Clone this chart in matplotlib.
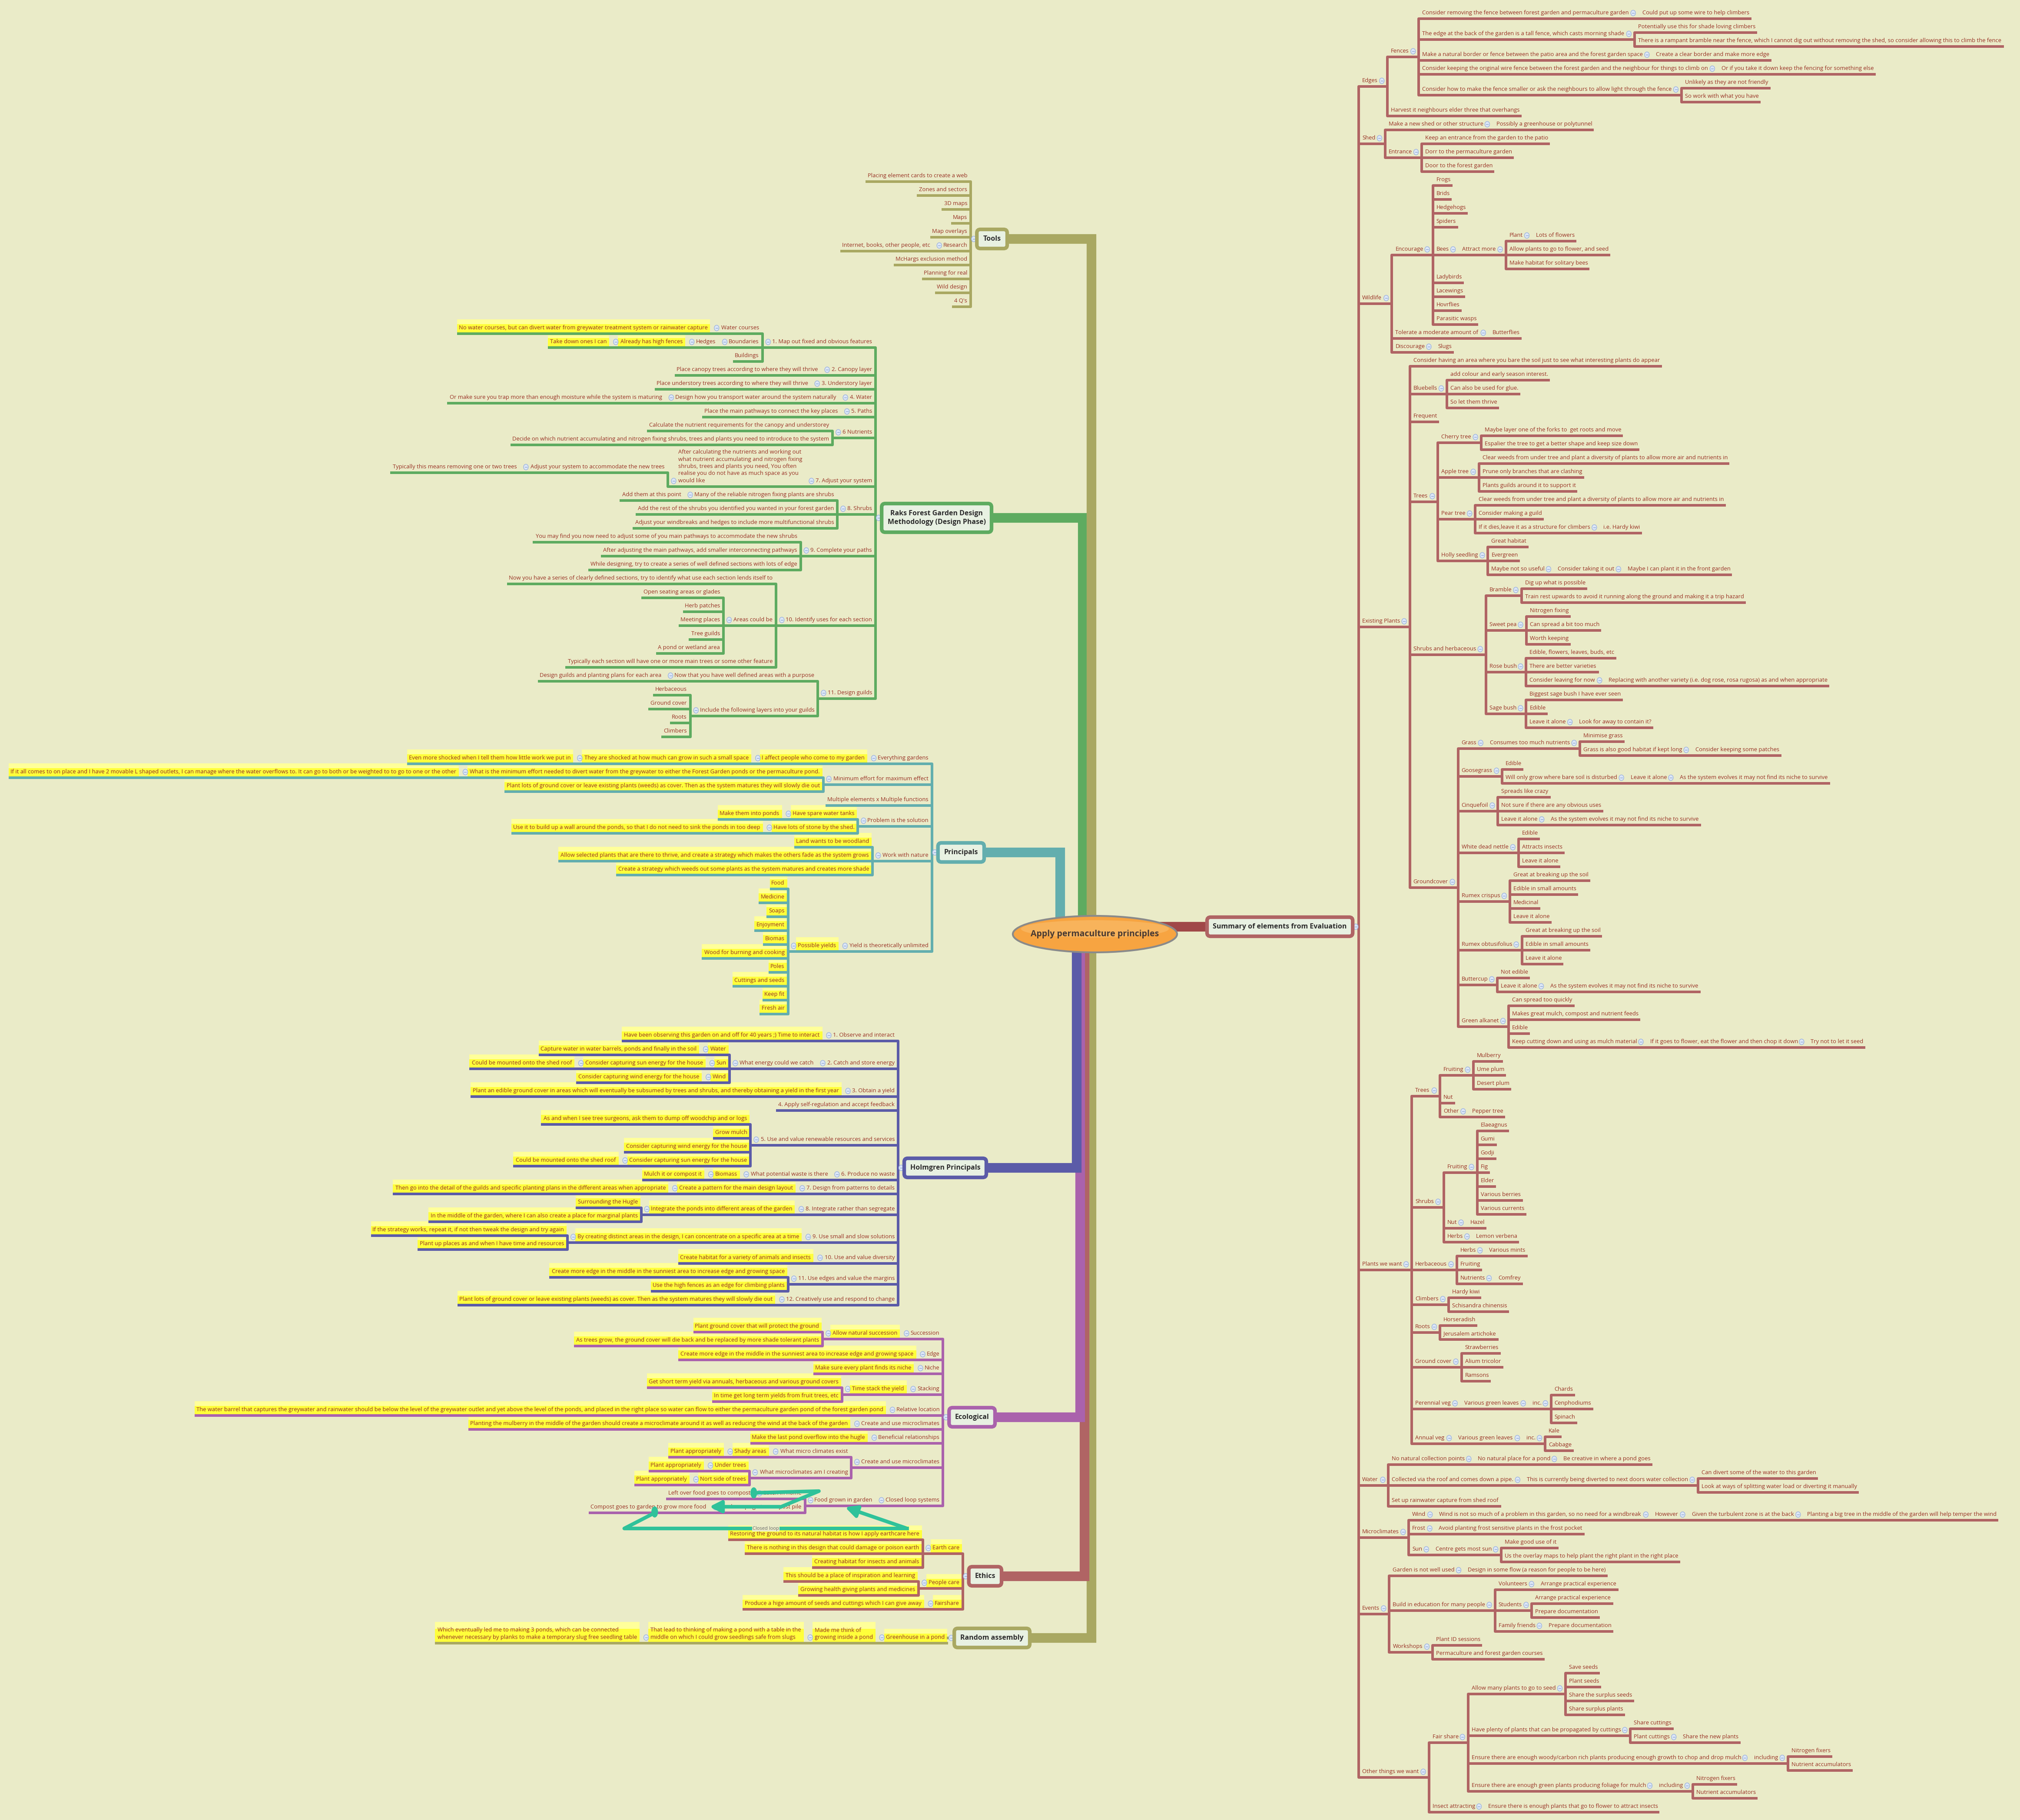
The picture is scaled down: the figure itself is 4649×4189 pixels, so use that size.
import matplotlib
matplotlib.use("Agg")
import matplotlib.pyplot as plt
from matplotlib.textpath import TextPath
from matplotlib.font_manager import FontProperties
from matplotlib.patches import FancyBboxPatch, Ellipse, Rectangle, FancyArrowPatch

# ---------------- DATA ----------------
root_label = "Apply permaculture principles"

summary_label = "Summary of elements from Evaluation"
summary_children = [
    ("Edges", [
        ("Fences", [
            ("Consider removing the fence between forest garden and permaculture garden", ["Could put up some wire to help climbers"]),
            ("The edge at the back of the garden is a tall fence, which casts morning shade", [
                "Potentially use this for shade loving climbers",
                "There is a rampant bramble near the fence, which I cannot dig out without removing the shed, so consider allowing this to climb the fence"]),
            ("Make a natural border or fence between the patio area and the forest garden space", ["Create a clear border and make more edge"]),
            ("Consider keeping the original wire fence between the forest garden and the neighbour for things to climb on", ["Or if you take it down keep the fencing for something else"]),
            ("Consider how to make the fence smaller or ask the neighbours to allow light through the fence", [
                "Unlikely as they are not friendly", "So work with what you have"]),
        ]),
        "Harvest it neighbours elder three that overhangs",
    ]),
    ("Shed", [
        ("Make a new shed or other structure", ["Possibly a greenhouse or polytunnel"]),
        ("Entrance", ["Keep an entrance from the garden to the patio", "Dorr to the permaculture garden", "Door to the forest garden"]),
    ]),
    ("Wildlife", [
        ("Encourage", ["Frogs", "Brids", "Hedgehogs", "Spiders",
                       ("Bees", [("Attract more", [("Plant", ["Lots of flowers"]),
                                                   "Allow plants to go to flower, and seed",
                                                   "Make habitat for solitary bees"])]),
                       "Ladybirds", "Lacewings", "Hovrflies", "Parasitic wasps"]),
        ("Tolerate a moderate amount of", ["Butterflies"]),
        ("Discourage", ["Slugs"]),
    ]),
    ("Existing Plants", [
        "Consider having an area where you bare the soil just to see what interesting plants do appear",
        ("Bluebells", ["add colour and early season interest.", "Can also be used for glue.", "So let them thrive"]),
        "Frequent",
        ("Trees", [
            ("Cherry tree", ["Maybe layer one of the forks to  get roots and move", "Espalier the tree to get a better shape and keep size down"]),
            ("Apple tree", ["Clear weeds from under tree and plant a diversity of plants to allow more air and nutrients in",
                            "Prune only branches that are clashing", "Plants guilds around it to support it"]),
            ("Pear tree", ["Clear weeds from under tree and plant a diversity of plants to allow more air and nutrients in",
                           "Consider making a guild",
                           ("If it dies,leave it as a structure for climbers", ["i.e. Hardy kiwi"])]),
            ("Holly seedling", ["Great habitat", "Evergreen",
                                ("Maybe not so useful", [("Consider taking it out", ["Maybe I can plant it in the front garden"])])]),
        ]),
        ("Shrubs and herbaceous", [
            ("Bramble", ["Dig up what is possible", "Train rest upwards to avoid it running along the ground and making it a trip hazard"]),
            ("Sweet pea", ["Nitrogen fixing", "Can spread a bit too much", "Worth keeping"]),
            ("Rose bush", ["Edible, flowers, leaves, buds, etc", "There are better varieties",
                           ("Consider leaving for now", ["Replacing with another variety (i.e. dog rose, rosa rugosa) as and when appropriate"])]),
            ("Sage bush", ["Biggest sage bush I have ever seen", "Edible", ("Leave it alone", ["Look for away to contain it?"])]),
        ]),
        ("Groundcover", [
            ("Grass", [("Consumes too much nutrients", ["Minimise grass",
                                                        ("Grass is also good habitat if kept long", ["Consider keeping some patches"])])]),
            ("Goosegrass", ["Edible", ("Will only grow where bare soil is disturbed",
                                       [("Leave it alone", ["As the system evolves it may not find its niche to survive"])])]),
            ("Cinquefoil", ["Spreads like crazy", "Not sure if there are any obvious uses",
                            ("Leave it alone", ["As the system evolves it may not find its niche to survive"])]),
            ("White dead nettle", ["Edible", "Attracts insects", "Leave it alone"]),
            ("Rumex crispus", ["Great at breaking up the soil", "Edible in small amounts", "Medicinal", "Leave it alone"]),
            ("Rumex obtusifolius", ["Great at breaking up the soil", "Edible in small amounts", "Leave it alone"]),
            ("Buttercup", ["Not edible", ("Leave it alone", ["As the system evolves it may not find its niche to survive"])]),
            ("Green alkanet", ["Can spread too quickly", "Makes great mulch, compost and nutrient feeds", "Edible",
                               ("Keep cutting down and using as mulch material",
                                [("If it goes to flower, eat the flower and then chop it down", ["Try not to let it seed"])])]),
        ]),
    ]),
    ("Plants we want", [
        ("Trees", [("Fruiting", ["Mulberry", "Ume plum", "Desert plum"]), "Nut", ("Other", ["Pepper tree"])]),
        ("Shrubs", [("Fruiting", ["Elaeagnus", "Gumi", "Godji", "Fig", "Elder", "Various berries", "Various currents"]),
                    ("Nut", ["Hazel"]), ("Herbs", ["Lemon verbena"])]),
        ("Herbaceous", [("Herbs", ["Various mints"]), "Fruiting", ("Nutrients", ["Comfrey"])]),
        ("Climbers", ["Hardy kiwi", "Schisandra chinensis"]),
        ("Roots", ["Horseradish", "Jerusalem artichoke"]),
        ("Ground cover", ["Strawberries", "Alium tricolor", "Ramsons"]),
        ("Perennial veg", [("Various green leaves", [("inc.", ["Chards", "Cenphodiums", "Spinach"])])]),
        ("Annual veg", [("Various green leaves", [("inc.", ["Kale", "Cabbage"])])]),
    ]),
    ("Water", [
        ("No natural collection points", [("No natural place for a pond", ["Be creative in where a pond goes"])]),
        ("Collected via the roof and comes down a pipe.", [("This is currently being diverted to next doors water collection", [
            "Can divert some of the water to this garden", "Look at ways of splitting water load or diverting it manually"])]),
        "Set up rainwater capture from shed roof",
    ]),
    ("Microclimates", [
        ("Wind", [("Wind is not so much of a problem in this garden, so no need for a windbreak", [("However", [
            ("Given the turbulent zone is at the back", ["Planting a big tree in the middle of the garden will help temper the wind"])])])]),
        ("Frost", ["Avoid planting frost sensitive plants in the frost pocket"]),
        ("Sun", [("Centre gets most sun", ["Make good use of it", "Us the overlay maps to help plant the right plant in the right place"])]),
    ]),
    ("Events", [
        ("Garden is not well used", ["Design in some flow (a reason for people to be here)"]),
        ("Build in education for many people", [
            ("Volunteers", ["Arrange practical experience"]),
            ("Students", ["Arrange practical experience", "Prepare documentation"]),
            ("Family friends", ["Prepare documentation"])]),
        ("Workshops", ["Plant ID sessions", "Permaculture and forest garden courses"]),
    ]),
    ("Other things we want", [
        ("Fair share", [
            ("Allow many plants to go to seed", ["Save seeds", "Plant seeds", "Share the surplus seeds", "Share surplus plants"]),
            ("Have plenty of plants that can be propagated by cuttings", ["Share cuttings", ("Plant cuttings", ["Share the new plants"])]),
            ("Ensure there are enough woody/carbon rich plants producing enough growth to chop and drop mulch",
             [("including", ["Nitrogen fixers", "Nutrient accumulators"])]),
            ("Ensure there are enough green plants producing foliage for mulch",
             [("including", ["Nitrogen fixers", "Nutrient accumulators"])]),
        ]),
        ("Insect attracting", ["Ensure there is enough plants that go to flower to attract insects"]),
    ]),
]

tools_children = ["Placing element cards to create a web", "Zones and sectors", "3D maps", "Maps", "Map overlays",
                  ("Research", ["Internet, books, other people, etc"]), "McHargs exclusion method",
                  "Planning for real", "Wild design", "4 Q's"]

raks_children = [
    ("1. Map out fixed and obvious features", [
        ("Water courses", ["No water courses, but can divert water from greywater treatment system or rainwater capture"]),
        ("Boundaries", [("Hedges", [("Already has high fences", ["Take down ones I can"])])]),
        "Buildings"]),
    ("2. Canopy layer", ["Place canopy trees according to where they will thrive"]),
    ("3. Understory layer", ["Place understory trees according to where they will thrive"]),
    ("4. Water", [("Design how you transport water around the system naturally",
                   ["Or make sure you trap more than enough moisture while the system is maturing"])]),
    ("5. Paths", ["Place the main pathways to connect the key places"]),
    ("6 Nutrients", ["Calculate the nutrient requirements for the canopy and understorey",
                     "Decide on which nutrient accumulating and nitrogen fixing shrubs, trees and plants you need to introduce to the system"]),
    ("7. Adjust your system", [("After calculating the nutrients and working out\nwhat nutrient accumulating and nitrogen fixing\n"
                                "shrubs, trees and plants you need, You often\nrealise you do not have as much space as you\nwould like",
                                [("Adjust your system to accommodate the new trees", ["Typically this means removing one or two trees"])])]),
    ("8. Shrubs", [("Many of the reliable nitrogen fixing plants are shrubs", ["Add them at this point"]),
                   "Add the rest of the shrubs you identified you wanted in your forest garden",
                   "Adjust your windbreaks and hedges to include more multifunctional shrubs"]),
    ("9. Complete your paths", ["You may find you now need to adjust some of you main pathways to accommodate the new shrubs",
                                "After adjusting the main pathways, add smaller interconnecting pathways",
                                "While designing, try to create a series of well defined sections with lots of edge"]),
    ("10. Identify uses for each section", [
        "Now you have a series of clearly defined sections, try to identify what use each section lends itself to",
        ("Areas could be", ["Open seating areas or glades", "Herb patches", "Meeting places", "Tree guilds", "A pond or wetland area"]),
        "Typically each section will have one or more main trees or some other feature"]),
    ("11. Design guilds", [("Now that you have well defined areas with a purpose", ["Design guilds and planting plans for each area"]),
                           ("Include the following layers into your guilds", ["Herbaceous", "Ground cover", "Roots", "Climbers"])]),
]

principals_children = [
    ("Everything gardens", [("I affect people who come to my garden", [("They are shocked at how much can grow in such a small space",
                                                                        ["Even more shocked when I tell them how little work we put in"])])]),
    ("Minimum effort for maximum effect", [
        ("What is the minimum effort needed to divert water from the greywater to either the Forest Garden ponds or the permaculture pond.",
         ["If it all comes to on place and I have 2 movable L shaped outlets, I can manage where the water overflows to. It can go to both or be weighted to to go to one or the other"]),
        "Plant lots of ground cover or leave existing plants (weeds) as cover. Then as the system matures they will slowly die out"]),
    "Multiple elements x Multiple functions",
    ("Problem is the solution", [("Have spare water tanks", ["Make them into ponds"]),
                                 ("Have lots of stone by the shed.", ["Use it to build up a wall around the ponds, so that I do not need to sink the ponds in too deep"])]),
    ("Work with nature", ["Land wants to be woodland",
                          "Allow selected plants that are there to thrive, and create a strategy which makes the others fade as the system grows",
                          "Create a strategy which weeds out some plants as the system matures and creates more shade"]),
    ("Yield is theoretically unlimited", [("Possible yields", ["Food", "Medicine", "Soaps", "Enjoyment", "Biomas",
                                                               "Wood for burning and cooking", "Poles", "Cuttings and seeds",
                                                               "Keep fit", "Fresh air"])]),
]

holmgren_children = [
    ("1. Observe and interact", ["Have been observing this garden on and off for 40 years ;) Time to interact"]),
    ("2. Catch and store energy", [("What energy could we catch", [
        ("Water", ["Capture water in water barrels, ponds and finally in the soil"]),
        ("Sun", [("Consider capturing sun energy for the house", ["Could be mounted onto the shed roof"])]),
        ("Wind", ["Consider capturing wind energy for the house"])])]),
    ("3. Obtain a yield", ["Plant an edible ground cover in areas which will eventually be subsumed by trees and shrubs, and thereby obtaining a yield in the first year"]),
    "4. Apply self-regulation and accept feedback",
    ("5. Use and value renewable resources and services", [
        "As and when I see tree surgeons, ask them to dump off woodchip and or logs", "Grow mulch",
        "Consider capturing wind energy for the house",
        ("Consider capturing sun energy for the house", ["Could be mounted onto the shed roof"])]),
    ("6. Produce no waste", [("What potential waste is there", [("Biomass", ["Mulch it or compost it"])])]),
    ("7. Design from patterns to details", [("Create a pattern for the main design layout",
                                             ["Then go into the detail of the guilds and specific planting plans in the different areas when appropriate"])]),
    ("8. Integrate rather than segregate", [("Integrate the ponds into different areas of the garden",
                                             ["Surrounding the Hugle", "In the middle of the garden, where I can also create a place for marginal plants"])]),
    ("9. Use small and slow solutions", [("By creating distinct areas in the design, I can concentrate on a specific area at a time",
                                          ["If the strategy works, repeat it, if not then tweak the design and try again",
                                           "Plant up places as and when I have time and resources"])]),
    ("10. Use and value diversity", ["Create habitat for a variety of animals and insects"]),
    ("11. Use edges and value the margins", ["Create more edge in the middle in the sunniest area to increase edge and growing space",
                                            "Use the high fences as an edge for climbing plants"]),
    ("12. Creatively use and respond to change", ["Plant lots of ground cover or leave existing plants (weeds) as cover. Then as the system matures they will slowly die out"]),
]

ecological_children = [
    ("Succession", [("Allow natural succession", ["Plant ground cover that will protect the ground",
                                                  "As trees grow, the ground cover will die back and be replaced by more shade tolerant plants"])]),
    ("Edge", ["Create more edge in the middle in the sunniest area to increase edge and growing space"]),
    ("Niche", ["Make sure every plant finds its niche"]),
    ("Stacking", [("Time stack the yield", ["Get short term yield via annuals, herbaceous and various ground covers",
                                            "In time get long term yields from fruit trees, etc"])]),
    ("Relative location", ["The water barrel that captures the greywater and rainwater should be below the level of the greywater outlet and yet above the level of the ponds, and placed in the right place so water can flow to either the permaculture garden pond of the forest garden pond"]),
    ("Create and use microclimates", ["Planting the mulberry in the middle of the garden should create a microclimate around it as well as reducing the wind at the back of the garden"]),
    ("Beneficial relationships", ["Make the last pond overflow into the hugle"]),
    ("Create and use microclimates", [
        ("What micro climates exist", [("Shady areas", ["Plant appropriately"])]),
        ("What microclimates am I creating", [("Under trees", ["Plant appropriately"]),
                                              ("Nort side of trees", ["Plant appropriately"])])]),
    ("Closed loop systems", [("Food grown in garden", [("Eaten in home", ["Left over food goes to compost"]),
                                                       ("Food scraps go to compost pile", ["Compost goes to garden to grow more food"])])]),
]

ethics_children = [
    ("Earth care", ["Restoring the ground to its natural habitat is how I apply earthcare here",
                    "There is nothing in this design that could damage or poison earth",
                    "Creating habitat for insects and animals"]),
    ("People care", ["This should be a place of inspiration and learning", "Growing health giving plants and medicines"]),
    ("Fairshare", ["Produce a hige amount of seeds and cuttings which I can give away"]),
]

random_children = [
    ("Greenhouse in a pond", [("Made me think of\ngrowing inside a pond", [
        ("That lead to thinking of making a pond with a table in the\nmiddle on which I could grow seedlings safe from slugs",
         ["Which eventually led me to making 3 ponds, which can be connected\nwhenever necessary by planks to make a temporary slug free seedling table"])])]),
]

left_branches = [
    ("Tools", tools_children),
    ("Raks Forest Garden Design\nMethodology (Design Phase)", raks_children),
    ("Principals", principals_children),
    ("Holmgren Principals", holmgren_children),
    ("Ecological", ecological_children),
    ("Ethics", ethics_children),
    ("Random assembly", random_children),
]

# ---------------- STYLE / LAYOUT CONSTANTS ----------------
W, H = 4649, 4189
DPI = 100
BG = "#EAEBC8"
TXT = "#983224"
FS = 9.4
SLOT = 32
LINE = 16
FAM = "Open Sans"
BR_COLORS = ["#A9A862", "#5EAB60", "#63AEAE", "#5B5BA8", "#AA62AC", "#B06464", "#A9A862"]
BOX_RIGHT = [2318, 2282, 2265, 2270, 2290, 2305, 2370]
TRUNK_X = [2512, 2492, 2440, 2478, 2486, 2496, 2512]
RIGHT_COLOR = "#B06464"
ROOT_XY = (2520, 2150)
LEFT_TOP = 392
LEFT_GAP = 30
RIGHT_TOP = 17
HL_BRANCH_MIN_DEPTH = {2: 2, 3: 2, 4: 2, 5: 1, 6: 0}
HL_EXTRA = {"No water courses, but can divert water from greywater treatment system or rainwater capture",
            "Already has high fences", "Take down ones I can"}
HL_EXCLUDE = {"What energy could we catch", "What potential waste is there", "What micro climates exist",
              "What microclimates am I creating", "Food grown in garden", "Eaten in home",
              "Left over food goes to compost", "Food scraps go to compost pile",
              "Compost goes to garden to grow more food"}
LW = 6 * 0.72

fp = FontProperties(family=FAM, size=FS)
fpb = FontProperties(family=FAM, size=11.5, weight="bold")


def measure(s, prop=fp):
    w = 0
    for ln in s.split("\n"):
        if ln.strip():
            w = max(w, TextPath((0, 0), ln, prop=prop).get_extents().width)
    return w * DPI / 72.0


def norm(n):
    if isinstance(n, str):
        return (n, [])
    return (n[0], [norm(c) for c in n[1]])


def _height(node):
    label, kids = node
    own = SLOT + label.count("\n") * LINE
    if not kids:
        return own
    return max(own, sum(_height(k) for k in kids))


def vlayout(node, top):
    label, kids = node
    nl = label.count("\n") + 1
    own = SLOT + (nl - 1) * LINE
    if not kids:
        return {"label": label, "kids": [], "y": top + own - 6, "h": own, "nl": nl}
    total = sum(_height(k) for k in kids)
    off = max(0, (own - total) / 2.0)
    t = top + off
    placed = []
    for k in kids:
        p = vlayout(k, t)
        placed.append(p)
        t += p["h"]
    if own > total:
        y = top + own - 6
    else:
        y = (placed[0]["y"] + placed[-1]["y"]) / 2.0
    return {"label": label, "kids": placed, "y": y, "h": max(own, total), "nl": nl}


fig = plt.figure(figsize=(W / DPI, H / DPI), dpi=DPI)
fig.patch.set_facecolor(BG)
ax = fig.add_axes([0, 0, 1, 1])
ax.set_xlim(0, W)
ax.set_ylim(H, 0)
ax.axis("off")
ax.set_facecolor(BG)

POS = {}


def icon(x, y):
    ax.add_patch(Ellipse((x, y), 11, 13, facecolor="#DCE6F6", edgecolor="#9DB4DE", lw=1, zorder=6))
    ax.plot([x - 2.5, x + 2.5], [y, y], color="#7F9CCF", lw=0.8, zorder=7)


def draw(p, x0, d, color, depth, hl_min):
    label = p["label"]
    y = p["y"]
    xt0 = x0 + d * 8
    w = measure(label)
    xt1 = xt0 + d * w
    POS[label] = (xt0, xt1, y)
    hl = (hl_min is not None and depth >= hl_min and label not in HL_EXCLUDE) or label in HL_EXTRA
    if hl:
        hh = p["nl"] * LINE + 14
        ax.add_patch(Rectangle((min(xt0, xt1) - 6, y - 3 - hh), abs(w) + 12, hh,
                               facecolor="#FFFF3A", edgecolor="none", zorder=2))
        ax.add_patch(Rectangle((min(xt0, xt1) - 6, y - 3 - hh), abs(w) + 12, hh * 0.35,
                               facecolor="#FFFF9A", edgecolor="none", zorder=2))
    ax.text(xt0, y - 7, label, ha="left" if d > 0 else "right", va="bottom", multialignment="left",
            fontproperties=fp, color=TXT, zorder=5, linespacing=1.35)
    if p["kids"]:
        cx = xt1 + d * 24
        ax.plot([x0, cx], [y, y], color=color, lw=LW, solid_capstyle="butt", zorder=3)
        icon(xt1 + d * 11, y - 13)
        ys = [k["y"] for k in p["kids"]] + [y]
        ax.plot([cx, cx], [min(ys), max(ys)], color=color, lw=LW, solid_capstyle="round", zorder=3)
        for k in p["kids"]:
            draw(k, cx, d, color, depth + 1, hl_min)
    else:
        ax.plot([x0, xt1 + d * 6], [y, y], color=color, lw=LW, solid_capstyle="butt", zorder=3)


def box(cx_left, cy, label, color, right=None):
    tw = measure(label, fpb)
    nl = label.count("\n") + 1
    bw = tw + 30
    bh = 22 * nl + 22
    if right is not None:
        cx_left = right - bw
    ax.add_patch(FancyBboxPatch((cx_left, cy - bh / 2), bw, bh, boxstyle="round,pad=0,rounding_size=8",
                                facecolor="#E8F1E2", edgecolor=color, lw=6, zorder=8))
    ax.text(cx_left + bw / 2, cy, label, ha="center", va="center", fontproperties=fpb,
            color="#2E2E2E", zorder=9, linespacing=1.3)
    return cx_left, cx_left + bw


rx, ry = ROOT_XY

# ---- left branches ----
top = LEFT_TOP
for bi, (name, kids) in enumerate(left_branches):
    color = BR_COLORS[bi]
    placed = []
    t = top
    for k in kids:
        p = vlayout(norm(k), t)
        placed.append(p)
        t += p["h"]
    by = (placed[0]["y"] + placed[-1]["y"]) / 2.0
    bcy = by - 12
    bl, br = box(0, bcy, name, color, right=BOX_RIGHT[bi])
    x0 = bl - 14
    ys = [p["y"] for p in placed] + [by]
    ax.plot([x0, x0], [min(ys), max(ys)], color=color, lw=LW, solid_capstyle="round", zorder=3)
    ax.plot([x0, bl], [bcy, bcy], color=color, lw=LW, zorder=3)
    icon(bl - 7, bcy)
    hl_min = HL_BRANCH_MIN_DEPTH.get(bi)
    for p in placed:
        draw(p, x0, -1, color, 1, hl_min)
    ax.plot([br, TRUNK_X[bi], TRUNK_X[bi]], [bcy, bcy, ry], color=color, lw=16,
            solid_joinstyle="miter", zorder=1 + 0.01 * (7 - bi))
    top = t + LEFT_GAP

# ---- right branch ----
placed = []
t = RIGHT_TOP
for k in summary_children:
    p = vlayout(norm(k), t)
    placed.append(p)
    t += p["h"]
sy = (placed[0]["y"] + placed[-1]["y"]) / 2.0
scy = sy - 12
bl, br = box(2778, scy, summary_label, RIGHT_COLOR)
x0 = br + 14
ys = [p["y"] for p in placed]
ax.plot([x0, x0], [min(ys), max(ys)], color=RIGHT_COLOR, lw=LW, solid_capstyle="round", zorder=3)
ax.plot([br, x0], [scy, scy], color=RIGHT_COLOR, lw=LW, zorder=3)
icon(br + 7, scy)
for p in placed:
    draw(p, x0, 1, RIGHT_COLOR, 1, None)
ax.plot([rx + 150, 2652, 2652, bl], [ry, ry, scy, scy], color="#A04848", lw=16, zorder=1)

# ---- root ----
ax.add_patch(Ellipse((rx, ry), 378, 84, facecolor="#F7A441", edgecolor="#8A8A8A", lw=3, zorder=10))
ax.add_patch(Ellipse((rx, ry - 12), 340, 40, facecolor="#F9BE6E", edgecolor="none", zorder=10, alpha=0.6))
ax.text(rx, ry, root_label, ha="center", va="center", fontproperties=FontProperties(family=FAM, size=14, weight="bold"),
        color="#4A3A32", zorder=11)

# ---- closed loop arrows ----
LC = "#2FC29A"
lo = POS["Left over food goes to compost"]
eh = POS["Eaten in home"]
fs_ = POS["Food scraps go to compost pile"]
cg = POS["Compost goes to garden to grow more food"]
fg = POS["Food grown in garden"]
rs = POS["Restoring the ground to its natural habitat is how I apply earthcare here"]
ylo = lo[2] - 14
yfs = fs_[2] - 14
ztr = eh[0] + 40
zbx = fs_[1] + 0.75 * (fs_[0] - fs_[1])
ax.plot([lo[0] + 8, ztr, zbx], [ylo, ylo - 4, yfs], color=LC, lw=6, zorder=12)
ax.add_patch(Ellipse((lo[0] + 8, ylo), 14, 24, color=LC, zorder=12))
ax.add_patch(FancyArrowPatch((zbx, yfs), (cg[0] + 4, yfs), arrowstyle="-|>", mutation_scale=40,
                             color=LC, lw=6, zorder=12))
dotx = cg[1] + 0.55 * (cg[0] - cg[1])
ybot = rs[2] - 26
lx = dotx - 70
rxx = fg[0] + 80
ax.add_patch(Ellipse((dotx, cg[2] - 2), 14, 24, color=LC, zorder=12))
ax.plot([dotx, lx, rxx], [cg[2], ybot, ybot], color=LC, lw=6, zorder=12)
fmx = (fg[0] + fg[1]) / 2
ax.add_patch(FancyArrowPatch((rxx, ybot), (fmx, fg[2] + 2), arrowstyle="-|>", mutation_scale=40,
                             color=LC, lw=6, zorder=12))
ax.text((lx + rxx) / 2, ybot, "Closed loop", ha="center", va="center", fontsize=8, color="#6A6A6A",
        family=FAM, zorder=13, bbox=dict(facecolor=BG, edgecolor="none", pad=1))

fig.savefig("out.png", dpi=DPI, facecolor=BG)
